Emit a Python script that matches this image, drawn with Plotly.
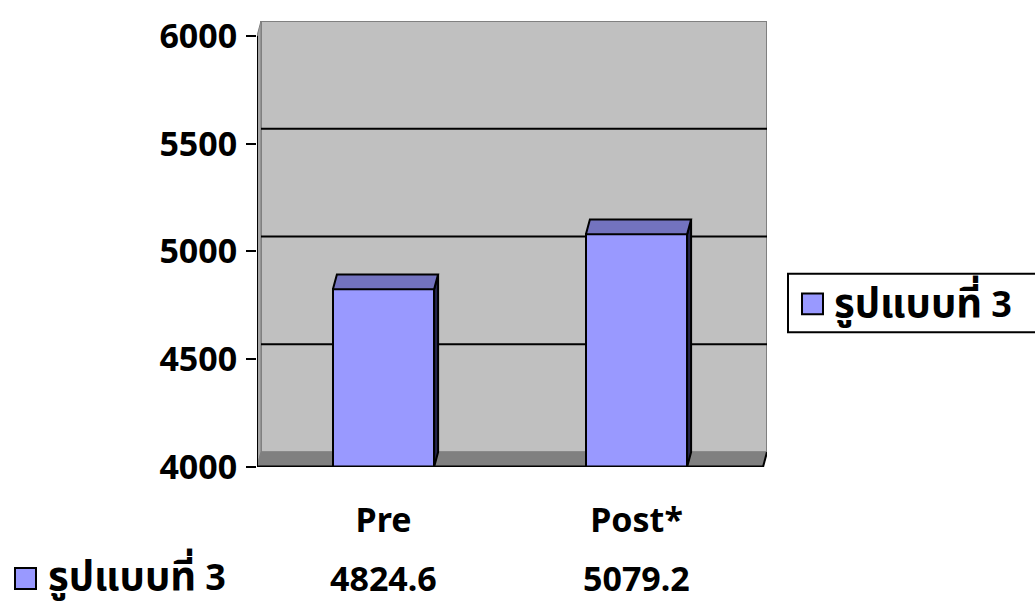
import plotly.graph_objects as go

# Data
categories = ["Pre", "Post*"]
series_name = "รูปแบบที่ 3"
values = [4824.6, 5079.2]
y_ticks = [4000, 4500, 5000, 5500, 6000]

# Canvas / plot geometry (pixels)
W, H = 1035, 603
L, R, T, B = 257, 268, 17, 136
PW, PH = W - L - R, H - T - B
Y0 = 4000
PX_PER_Y = 435 / 2000.0        # front-face vertical scale
PX_PER_X = 253.0               # one category slot
Y_TOP = Y0 + PH / PX_PER_Y
X_LO = -0.5
X_HI = X_LO + PW / PX_PER_X

# depth offset for the pseudo-3D look, in data units
DX = 4 / PX_PER_X
DY = 15 / PX_PER_Y
BAR_W = 0.4

FONT = "Noto Sans, Noto Sans Thai, DejaVu Sans, sans-serif"
FRONT = "#9999FF"
TOP = "#7373BF"
SIDE = "#26264D"


def series_label(name):
    # Thai script is set a little larger so it matches the Latin digits' weight
    word, _, num = name.rpartition(" ")
    return f'<span style="font-size:40px">{word}</span> {num}'


fig = go.Figure()

# back wall, floor and side wall
shapes = []
xl, xr = X_LO, X_LO + 2.0
shapes.append(dict(type="rect", xref="x", yref="y", x0=xl + DX, x1=xr + DX,
                   y0=Y0 + DY, y1=6000 + DY, fillcolor="#C0C0C0",
                   line=dict(color="#808080", width=2), layer="below"))
shapes.append(dict(type="path", xref="x", yref="y",
                   path=f"M {xl},{Y0} L {xl+DX},{Y0+DY} L {xl+DX},{6000+DY} L {xl},{6000} Z",
                   fillcolor="#A6A6A6", line=dict(color="#808080", width=1), layer="below"))
shapes.append(dict(type="path", xref="x", yref="y",
                   path=f"M {xl},{Y0} L {xr},{Y0} L {xr+DX},{Y0+DY} L {xl+DX},{Y0+DY} Z",
                   fillcolor="#808080", line=dict(color="#808080", width=1), layer="below"))
# gridlines on the back wall
for v in y_ticks[1:-1]:
    shapes.append(dict(type="line", xref="x", yref="y", x0=xl + DX, x1=xr + DX,
                       y0=v + DY, y1=v + DY, line=dict(color="black", width=2),
                       layer="below"))
# floor front & right edges, value axis line
shapes.append(dict(type="line", xref="x", yref="y", x0=xl, x1=xr, y0=Y0, y1=Y0,
                   line=dict(color="black", width=3), layer="above"))
shapes.append(dict(type="line", xref="x", yref="y", x0=xr, x1=xr + DX, y0=Y0, y1=Y0 + DY,
                   line=dict(color="black", width=2), layer="above"))
shapes.append(dict(type="line", xref="x", yref="y", x0=xl, x1=xl, y0=Y0, y1=6000,
                   line=dict(color="black", width=2), layer="above"))

# bars: front faces
xs = list(range(len(categories)))
fig.add_trace(go.Bar(x=xs, y=[v - Y0 for v in values], base=Y0, width=BAR_W,
                     marker=dict(color=FRONT, line=dict(color="black", width=2)),
                     name=series_name, showlegend=False, hoverinfo="skip"))

# bars: side and top faces
for x, v in zip(xs, values):
    a, b = x - BAR_W / 2, x + BAR_W / 2
    fig.add_trace(go.Scatter(x=[b, b + DX, b + DX, b, b], y=[Y0, Y0 + DY, v + DY, v, Y0],
                             fill="toself", fillcolor=SIDE, mode="lines",
                             line=dict(color="black", width=2), showlegend=False,
                             hoverinfo="skip"))
    fig.add_trace(go.Scatter(x=[a, b, b + DX, a + DX, a], y=[v, v, v + DY, v + DY, v],
                             fill="toself", fillcolor=TOP, mode="lines",
                             line=dict(color="black", width=2), showlegend=False,
                             hoverinfo="skip"))


def px(xp):
    return (xp - L) / PW


def py(yp):
    return (H - B - yp) / PH


# legend box
shapes.append(dict(type="rect", xref="paper", yref="paper", x0=px(788), x1=px(1045),
                   y0=py(331), y1=py(272), line=dict(color="black", width=2),
                   fillcolor="white"))
shapes.append(dict(type="rect", xref="paper", yref="paper", x0=px(802), x1=px(823),
                   y0=py(313), y1=py(292), line=dict(color="black", width=2),
                   fillcolor=FRONT))
# data-table legend key
shapes.append(dict(type="rect", xref="paper", yref="paper", x0=px(15), x1=px(36),
                   y0=py(590), y1=py(569), line=dict(color="black", width=2),
                   fillcolor=FRONT))

bold = dict(family=FONT, size=34, color="black", weight="bold")
label_font = dict(family=FONT, size=36, color="black", weight="bold")
annotations = [
    dict(text=series_label(series_name), xref="paper", yref="paper", x=px(832), y=py(300),
         xanchor="left", yanchor="middle", showarrow=False, font=label_font),
    dict(text=series_label(series_name), xref="paper", yref="paper", x=px(46), y=py(575),
         xanchor="left", yanchor="middle", showarrow=False, font=label_font),
]
for x, v in zip(xs, values):
    annotations.append(dict(text=f"{v:.1f}", xref="x", yref="paper", x=x, y=py(579),
                            xanchor="center", yanchor="middle", showarrow=False,
                            font=bold))

fig.update_layout(
    width=W, height=H,
    margin=dict(l=L, r=R, t=T, b=B, pad=0),
    paper_bgcolor="white", plot_bgcolor="white",
    shapes=shapes, annotations=annotations,
    showlegend=False, bargap=0,
    xaxis=dict(range=[X_LO, X_HI], tickvals=xs, ticktext=categories,
               showgrid=False, zeroline=False, showline=False, ticks="",
               ticklabelstandoff=30, tickfont=bold),
    yaxis=dict(range=[Y0, Y_TOP], tickvals=y_ticks, showgrid=False, zeroline=False,
               showline=False, ticks="outside", ticklen=10, tickwidth=2,
               tickcolor="black", ticklabelstandoff=2, tickfont=bold),
)

fig.write_html("out.html")
